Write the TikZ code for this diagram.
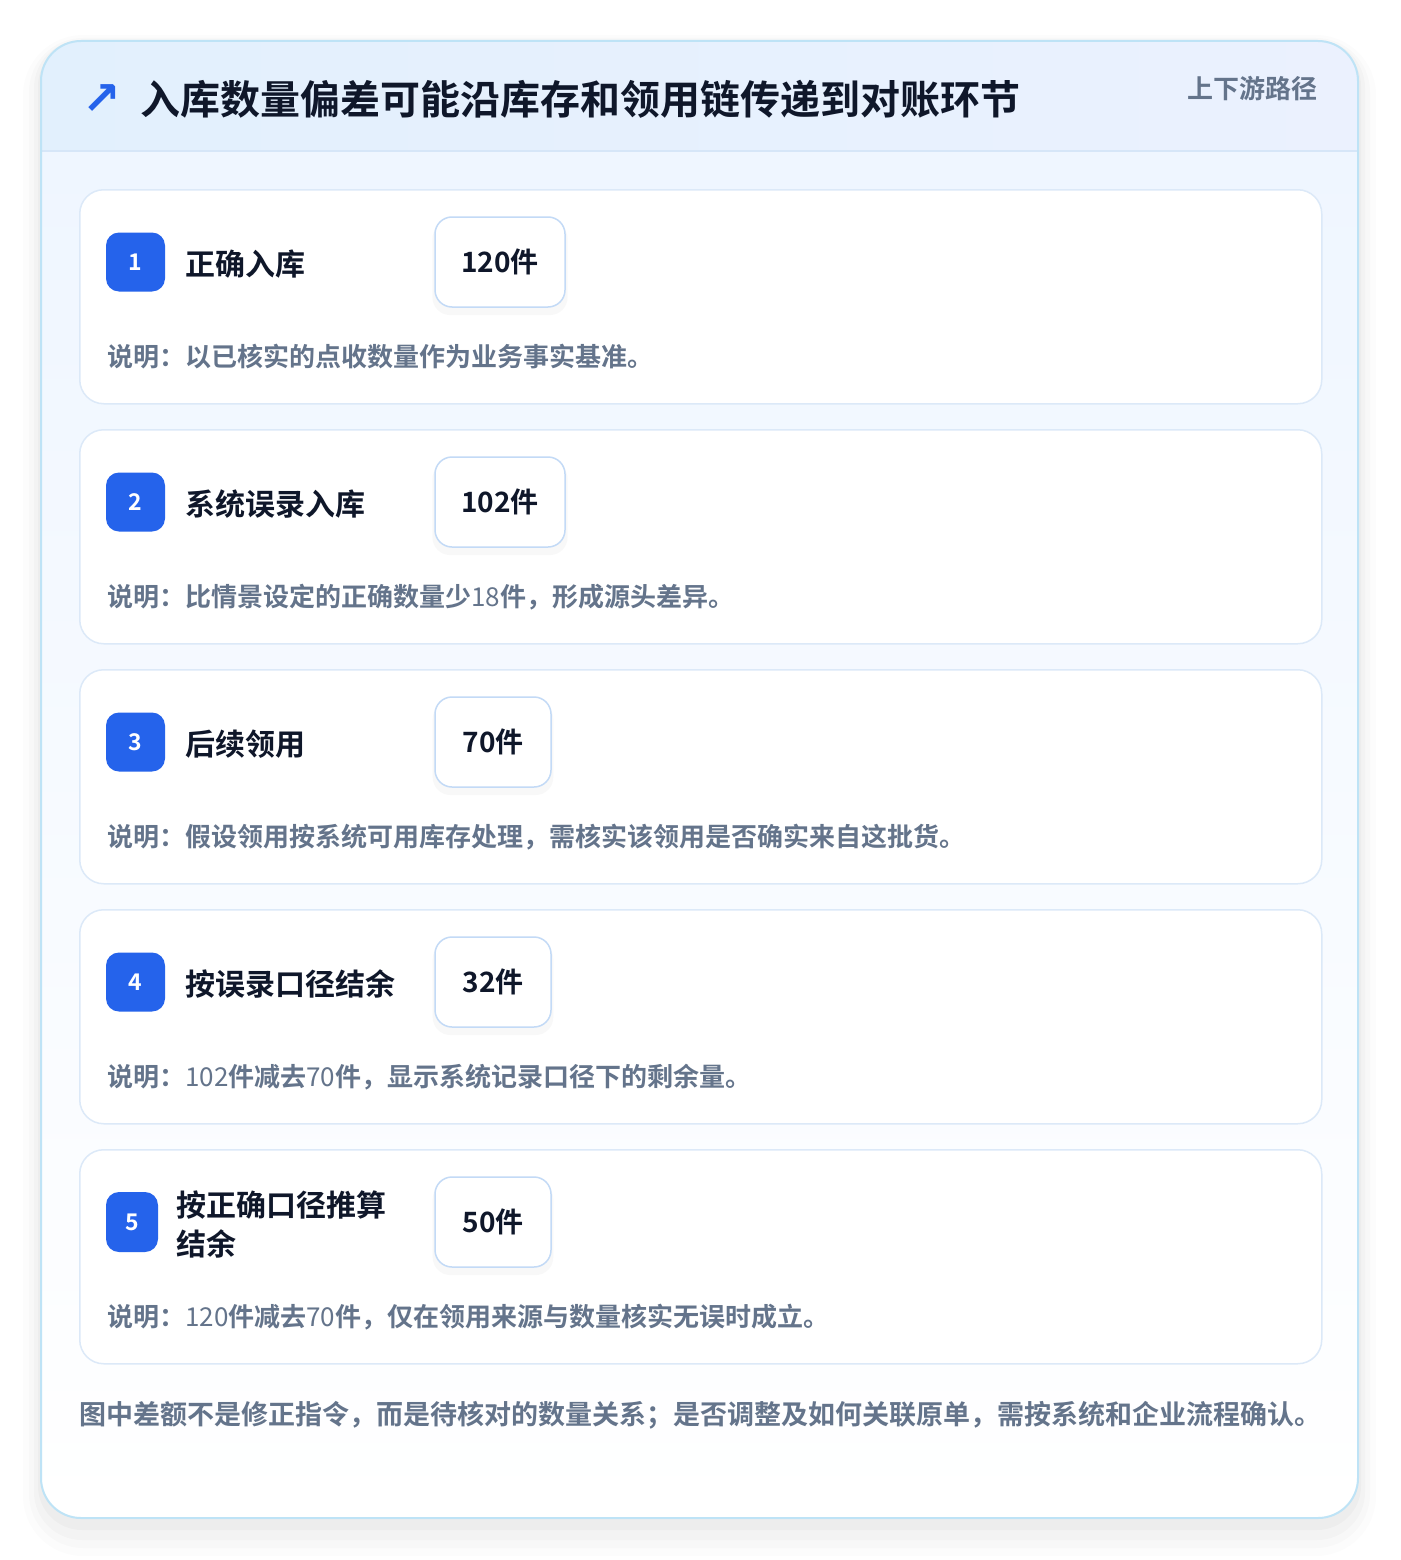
\documentclass[tikz,border=0pt]{standalone}
\usepackage{fontspec}
\setmainfont{Noto Sans CJK SC}[BoldFont={Noto Sans CJK SC Bold}]
\newfontfamily\symfont{DejaVu Sans}
\usetikzlibrary{positioning,calc,shadows}

\definecolor{badgeblue}{HTML}{2563EB}
\definecolor{inkdark}{HTML}{0F172A}
\definecolor{notegray}{HTML}{64748B}
\definecolor{cardline}{HTML}{DCE9F8}
\definecolor{outerline}{HTML}{BEE3F6}
\definecolor{headline}{HTML}{D6E6F8}
\definecolor{headtop}{HTML}{E2F0FD}
\definecolor{headbot}{HTML}{EBF1FE}
\definecolor{valline}{HTML}{C3DAF6}
\definecolor{bodytop}{HTML}{EFF6FF}

\newcommand\numreg[1]{{\mdseries #1}}

\tikzset{
  card/.style={draw=cardline, line width=1.5pt, fill=white, rounded corners=24pt,
    anchor=north west, minimum width=1242pt, minimum height=214pt},
  badge/.style={fill=badgeblue, rounded corners=13pt, minimum width=59pt, minimum height=59pt,
    text=white, font=\fontsize{23}{23}\selectfont\bfseries, inner sep=0pt},
  stepname/.style={anchor=west, text=inkdark, font=\fontsize{30}{39}\selectfont\bfseries,
    inner sep=0pt, align=left},
  valbox/.style={draw=valline, line width=1.5pt, fill=white, rounded corners=17pt,
    minimum height=90pt, inner sep=0pt, text=inkdark, font=\fontsize{28}{28}\selectfont\bfseries,
    drop shadow={opacity=0.05, shadow xshift=0pt, shadow yshift=-6pt, shadow scale=1.04}},
  note/.style={anchor=west, text=notegray, font=\fontsize{26}{26}\selectfont\bfseries, inner sep=0pt},
}

\begin{document}
\begin{tikzpicture}[x=1pt, y=-1pt]
    \useasboundingbox (0,0) rectangle (1400,1560);
    \fill[white] (0,0) rectangle (1400,1560);

    % Shadow of the panel
    \fill[black, opacity=0.012, rounded corners=60pt] (23,35) rectangle (1376,1556);
    \fill[black, opacity=0.015, rounded corners=54pt] (29,38) rectangle (1370,1548);
    \fill[black, opacity=0.018, rounded corners=48pt] (34,40) rectangle (1365,1540);
    \fill[black, opacity=0.022, rounded corners=44pt] (38,42) rectangle (1361,1530);

    % Panel
    \begin{scope}
        \clip[rounded corners=40pt] (41,41) rectangle (1358,1518);
        \shade[top color=bodytop, bottom color=white] (41,151) rectangle (1358,1518);
        \shade[left color=headtop, right color=headbot] (41,41) rectangle (1358,151);
    \end{scope}
    \draw[headline, line width=1.5pt] (41,151) -- (1358,151);
    \draw[outerline, line width=2pt, rounded corners=40pt] (41,41) rectangle (1358,1518);

    % Header
    \node[text=badgeblue, font=\symfont\bfseries\fontsize{46}{46}\selectfont, inner sep=0pt] (icon) at (102,100) {↗};
    \node[anchor=west, text=inkdark, font=\fontsize{40}{40}\selectfont\bfseries, inner sep=0pt] (title) at (140,99)
        {入库数量偏差可能沿库存和领用链传递到对账环节};
    \node[anchor=east, text=notegray, font=\fontsize{26}{26}\selectfont\bfseries, inner sep=0pt] (tag) at (1318,89)
        {上下游路径};

    % Step 1
    \node[card] (card1) at (79,189) {};
    \node[badge] (badge1) at (135.5,262) {1};
    \node[stepname] (name1) at (185,264) {正确入库};
    \node[valbox, minimum width=130pt] (val1) at (500,262) {120件};
    \node[note] (note1) at (107,357) {说明：以已核实的点收数量作为业务事实基准。};

    % Step 2
    \node[card] (card2) at (79,429) {};
    \node[badge] (badge2) at (135.5,502) {2};
    \node[stepname] (name2) at (185,504) {系统误录入库};
    \node[valbox, minimum width=130pt] (val2) at (500,502) {102件};
    \node[note] (note2) at (107,597) {说明：比情景设定的正确数量少\numreg{18}件，形成源头差异。};

    % Step 3
    \node[card] (card3) at (79,669) {};
    \node[badge] (badge3) at (135.5,742) {3};
    \node[stepname] (name3) at (185,744) {后续领用};
    \node[valbox, minimum width=116pt] (val3) at (493,742) {70件};
    \node[note] (note3) at (107,837) {说明：假设领用按系统可用库存处理，需核实该领用是否确实来自这批货。};

    % Step 4
    \node[card] (card4) at (79,909) {};
    \node[badge] (badge4) at (135.5,982) {4};
    \node[stepname] (name4) at (185,984) {按误录口径结余};
    \node[valbox, minimum width=116pt] (val4) at (493,982) {32件};
    \node[note] (note4) at (107,1077) {说明：\numreg{102}件减去\numreg{70}件，显示系统记录口径下的剩余量。};

    % Step 5
    \node[card] (card5) at (79,1149) {};
    \node[badge, minimum width=52pt, minimum height=60pt] (badge5) at (132,1222) {5};
    \node[stepname] (name5) at (176,1224) {按正确口径推算\\结余};
    \node[valbox, minimum width=116pt] (val5) at (493,1222) {50件};
    \node[note] (note5) at (107,1317) {说明：\numreg{120}件减去\numreg{70}件，仅在领用来源与数量核实无误时成立。};

    % Footer
    \node[anchor=west, text=notegray, font=\fontsize{27}{27}\selectfont\bfseries, inner sep=0pt] (footer) at (79,1415)
        {图中差额不是修正指令，而是待核对的数量关系；是否调整及如何关联原单，需按系统和企业流程确认。};
\end{tikzpicture}
\end{document}
